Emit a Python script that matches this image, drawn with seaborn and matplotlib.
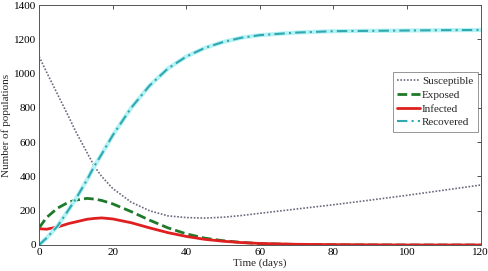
import matplotlib
matplotlib.use("Agg")
import matplotlib.pyplot as plt
import seaborn as sns
import pandas as pd

t = [0, 2, 5, 8, 10, 13, 15, 17, 20, 25, 30, 35, 40, 45, 50, 55, 60, 70, 80, 90, 100, 110, 120]
susceptible = [1100, 1010, 880, 750, 660, 540, 460, 400, 330, 250, 200, 170, 160, 157, 162, 172, 185, 210, 235, 262, 290, 320, 350]
exposed = [100, 160, 215, 250, 262, 272, 268, 260, 240, 195, 145, 100, 65, 40, 25, 15, 8, 3, 1, 0, 0, 0, 0]
infected = [95, 92, 105, 125, 135, 150, 155, 158, 152, 130, 100, 72, 50, 33, 22, 14, 9, 4, 2, 1, 0, 0, 0]
recovered = [0, 40, 110, 205, 270, 380, 460, 530, 640, 800, 930, 1030, 1100, 1150, 1185, 1210, 1225, 1240, 1248, 1250, 1252, 1254, 1255]

df = pd.DataFrame({"t": t, "S": susceptible, "E": exposed, "I": infected, "R": recovered})

sns.set_style("white")
plt.rcParams["font.family"] = ["Liberation Serif", "DejaVu Serif"]

fig, ax = plt.subplots(figsize=(4.89, 2.71), dpi=100)
fig.subplots_adjust(left=0.080, right=0.983, top=0.981, bottom=0.096)

sns.lineplot(data=df, x="t", y="S", ax=ax, color="#6a6a80", linestyle=(0, (1, 1)), lw=1.2, label="Susceptible")
sns.lineplot(data=df, x="t", y="E", ax=ax, color="#1e7a2a", linestyle=(0, (3.5, 1.5)), lw=2.0, label="Exposed")
sns.lineplot(data=df, x="t", y="I", ax=ax, color="#e02020", linestyle="-", lw=2.0, label="Infected")
sns.lineplot(data=df, x="t", y="R", ax=ax, color="#b4f2f4", linestyle="-", lw=3.0, legend=False)
sns.lineplot(data=df, x="t", y="R", ax=ax, color="#30a8b2", linestyle=(0, (5, 2, 1, 2)), lw=1.5, label="Recovered")

ax.set_xlim(0, 120)
ax.set_ylim(0, 1400)
ax.set_xticks([0, 20, 40, 60, 80, 100, 120])
ax.set_yticks([0, 200, 400, 600, 800, 1000, 1200, 1400])
ax.set_xlabel("Time (days)", fontsize=8, labelpad=1)
ax.set_ylabel("Number of populations", fontsize=8, labelpad=2)
ax.tick_params(direction="in", top=True, right=True, length=3, width=0.6, labelsize=8, pad=2, colors="#333333", labelcolor="black")
for s in ax.spines.values():
    s.set_linewidth(0.7)
    s.set_color("#555555")

leg = ax.legend(loc="upper right", bbox_to_anchor=(0.993, 0.721), fontsize=8, frameon=True, fancybox=False,
                handlelength=2.0, handletextpad=0.2, borderpad=0.4, labelspacing=0.35, borderaxespad=0)
leg.get_frame().set_edgecolor("#666666")
leg.get_frame().set_linewidth(0.6)

fig.savefig("out.png", dpi=100)
